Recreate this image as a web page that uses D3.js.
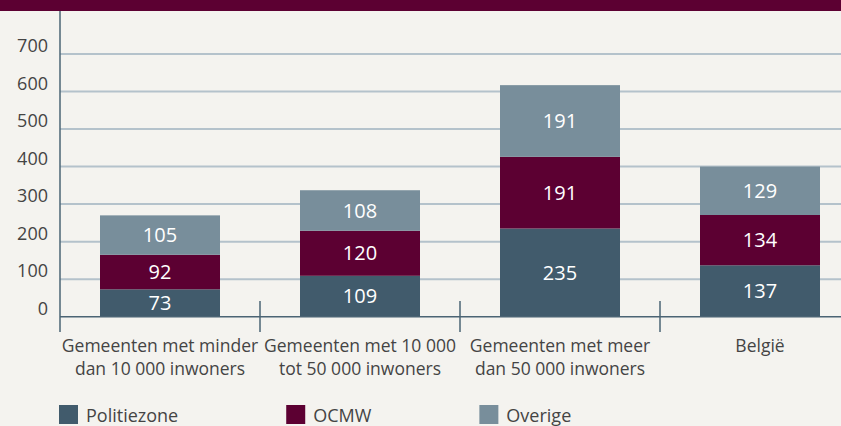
<!DOCTYPE html>
<html>
<head>
<meta charset="utf-8">
<script src="https://cdn.jsdelivr.net/npm/d3@7"></script>
<style>
  body { margin: 0; background: #f4f3ef; }
  svg { display: block; }
</style>
</head>
<body>
<div class="chart"></div>
<script>
// Data
var categories = [
    "Gemeenten met minder|dan 10 000 inwoners",
    "Gemeenten met 10 000|tot 50 000 inwoners",
    "Gemeenten met meer|dan 50 000 inwoners",
    "België"
];
var politiezone = [73, 109, 235, 137];
var ocmw = [92, 120, 191, 134];
var overige = [105, 108, 191, 129];
var seriesNames = ["Politiezone", "OCMW", "Overige"];
var yTicks = [0, 100, 200, 300, 400, 500, 600, 700];

var width = 841, height = 426;
var fontFace = "'Open Sans', Roboto, sans-serif";

// measure text width for the legend spacing
var BrowserText = (function () {
    var canvas = document.createElement('canvas'),
        context = canvas.getContext('2d');
    function getWidth(text, fontSize, face) {
        context.font = fontSize + 'px ' + face;
        return context.measureText(text).width;
    }
    return { getWidth: getWidth };
})();

var data = categories.map((c, i) => ({
    cat: c,
    Politiezone: politiezone[i],
    OCMW: ocmw[i],
    Overige: overige[i]
}));

var colors = d3.scaleOrdinal()
    .domain(seriesNames)
    .range(["#415b6c", "#5c0032", "#788e9b"]);

const svg = d3.select("div.chart")
    .append("svg")
    .attr("width", width)
    .attr("height", height)
    .style("background", "#f4f3ef");

// top band
svg.append("rect")
    .attr("x", 0).attr("y", 0)
    .attr("width", width).attr("height", 11)
    .attr("fill", "#5c0032");

var x = d3.scaleBand()
    .domain(categories)
    .range([60, 860])
    .paddingInner(0.4)
    .paddingOuter(0.2);

var y = d3.scaleLinear()
    .domain([0, 700])
    .range([316.7, 54]);

// grid lines
svg.append("g")
    .selectAll("line")
    .data(yTicks.slice(1))
    .join("line")
      .attr("x1", 60).attr("x2", width)
      .attr("y1", d => y(d)).attr("y2", d => y(d))
      .attr("stroke", "#b4c2cb")
      .attr("stroke-width", 2);

// y tick labels
svg.append("g")
    .attr("font-family", fontFace)
    .attr("font-size", 18)
    .attr("fill", "#444")
    .attr("text-anchor", "end")
    .selectAll("text")
    .data(yTicks)
    .join("text")
      .attr("x", 48)
      .attr("y", d => y(d) - 2)
      .text(d => d);

// stacked bars
var stacked = d3.stack().keys(seriesNames)(data)
    .map(s => (s.forEach(v => v.key = s.key), s));

var layers = svg.append("g")
    .selectAll("g")
    .data(stacked)
    .join("g")
      .attr("fill", d => colors(d.key));

layers.selectAll("rect")
    .data(d => d)
    .join("rect")
      .attr("x", d => x(d.data.cat))
      .attr("width", x.bandwidth())
      .attr("y", d => y(d[1]))
      .attr("height", d => y(d[0]) - y(d[1]));

layers.selectAll("text")
    .data(d => d)
    .join("text")
      .attr("x", d => x(d.data.cat) + x.bandwidth() / 2)
      .attr("y", d => (y(d[0]) + y(d[1])) / 2)
      .attr("dy", "0.36em")
      .attr("text-anchor", "middle")
      .attr("font-family", fontFace)
      .attr("font-size", 20)
      .attr("fill", "white")
      .text(d => d[1] - d[0]);

// axes lines
svg.append("line")
    .attr("x1", 60).attr("x2", 60)
    .attr("y1", 11).attr("y2", 332)
    .attr("stroke", "#4b6474").attr("stroke-width", 1.5);
svg.append("line")
    .attr("x1", 60).attr("x2", width)
    .attr("y1", y(0)).attr("y2", y(0))
    .attr("stroke", "#4b6474").attr("stroke-width", 1.5);

// separators between categories
svg.append("g")
    .selectAll("line")
    .data(categories.slice(1))
    .join("line")
      .attr("x1", d => x(d) - x.step() * x.paddingInner() / 2)
      .attr("x2", d => x(d) - x.step() * x.paddingInner() / 2)
      .attr("y1", 301).attr("y2", 332)
      .attr("stroke", "#4b6474").attr("stroke-width", 1.5);

// category labels (two lines)
var catLabels = svg.append("g")
    .attr("font-family", fontFace)
    .attr("font-size", 17.5)
    .attr("fill", "#444")
    .attr("text-anchor", "middle")
    .selectAll("text")
    .data(categories)
    .join("text")
      .attr("x", d => x(d) + x.bandwidth() / 2)
      .attr("y", 352);
catLabels.selectAll("tspan")
    .data(d => d.split("|"))
    .join("tspan")
      .attr("x", function () { return this.parentNode.getAttribute("x"); })
      .attr("dy", (d, i) => i === 0 ? 0 : 23)
      .text(d => d);

// legend
var legendX = [59];
seriesNames.forEach((s, i) => {
    if (i > 0) legendX.push(legendX[i - 1] + 27 + BrowserText.getWidth(seriesNames[i - 1], 18, fontFace) + 108);
});

var legend = svg.append("g")
    .selectAll("g")
    .data(seriesNames)
    .join("g")
      .attr("transform", (d, i) => `translate(${legendX[i]},405)`);
legend.append("rect")
    .attr("width", 19).attr("height", 19)
    .attr("fill", d => colors(d));
legend.append("text")
    .attr("x", 27)
    .attr("y", 17)
    .attr("font-family", fontFace)
    .attr("font-size", 18)
    .attr("fill", "#444")
    .text(d => d);
</script>
</body>
</html>
